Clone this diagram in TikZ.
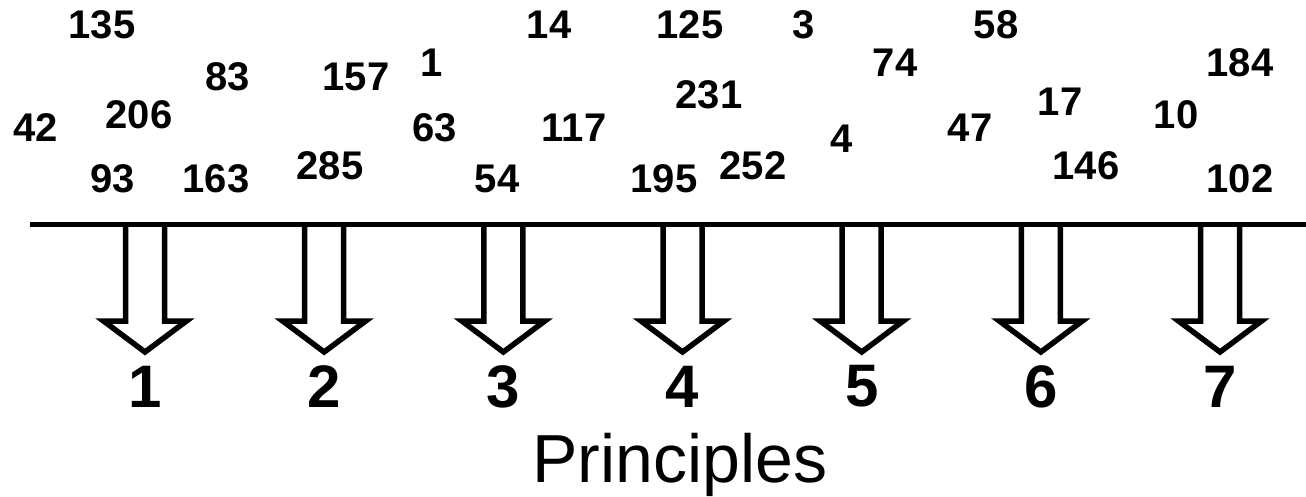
\documentclass[tikz,border=0pt]{standalone}
\usepackage{fontspec}
\setmainfont{Liberation Sans}
\begin{document}
\begin{tikzpicture}[x=1pt, y=-1pt,
    num/.style={font=\fontsize{40}{48}\selectfont\bfseries, inner sep=0pt},
    pnum/.style={font=\fontsize{60}{72}\selectfont\bfseries, inner sep=0pt},
    blockarr/.style={draw, line width=5.5pt, line join=miter}
  ]
  \useasboundingbox (0,0) rectangle (1306,496);

  % Numbers
  \node[num] (n135) at (102,25)  {135};
  \node[num] (n83)  at (228,77)  {83};
  \node[num] (n157) at (356,77)  {157};
  \node[num] (n1)   at (432,63)  {1};
  \node[num] (n42)  at (36,128)  {42};
  \node[num] (n206) at (139,115) {206};
  \node[num] (n63)  at (435,128) {63};
  \node[num] (n93)  at (113,179) {93};
  \node[num] (n163) at (216,179) {163};
  \node[num] (n285) at (330,166) {285};
  \node[num] (n14)  at (549,25)  {14};
  \node[num] (n125) at (690,25)  {125};
  \node[num] (n3)   at (804,25)  {3};
  \node[num] (n74)  at (895,63)  {74};
  \node[num] (n231) at (709,95)  {231};
  \node[num] (n117) at (574,128) {117};
  \node[num] (n4)   at (842,139) {4};
  \node[num] (n54)  at (497,179) {54};
  \node[num] (n195) at (664,179) {195};
  \node[num] (n252) at (753,166) {252};
  \node[num] (n58)  at (996,25)  {58};
  \node[num] (n184) at (1240,63) {184};
  \node[num] (n17)  at (1060,102) {17};
  \node[num] (n47)  at (970,128) {47};
  \node[num] (n10)  at (1176,115) {10};
  \node[num] (n146) at (1086,166) {146};
  \node[num] (n102) at (1240,179) {102};

  % Line
  \coordinate (lstart) at (30,224.5);
  \coordinate (lend)   at (1306,224.5);
  \draw[line width=5.5pt] (lstart) -- (lend);

  % Arrows
  \foreach \i in {1,...,7} {
    \pgfmathsetmacro{\px}{145+179.17*(\i-1)}
    \coordinate (p\i) at (\px,224.5);
    \node[pnum] (pr\i) at (\px,386.5) {\i};
    \draw[blockarr] (p\i) ++(-19.5,0) -- ++(0,96.5) -- ++(-22,0)
      -- ++(41.5,31) -- ++(41.5,-31) -- ++(-22,0) -- ++(0,-96.5);
  }

  % Label
  \node[font=\fontsize{68}{80}\selectfont, anchor=base, inner sep=0pt] (plabel) at (680,482) {Principles};
\end{tikzpicture}
\end{document}
